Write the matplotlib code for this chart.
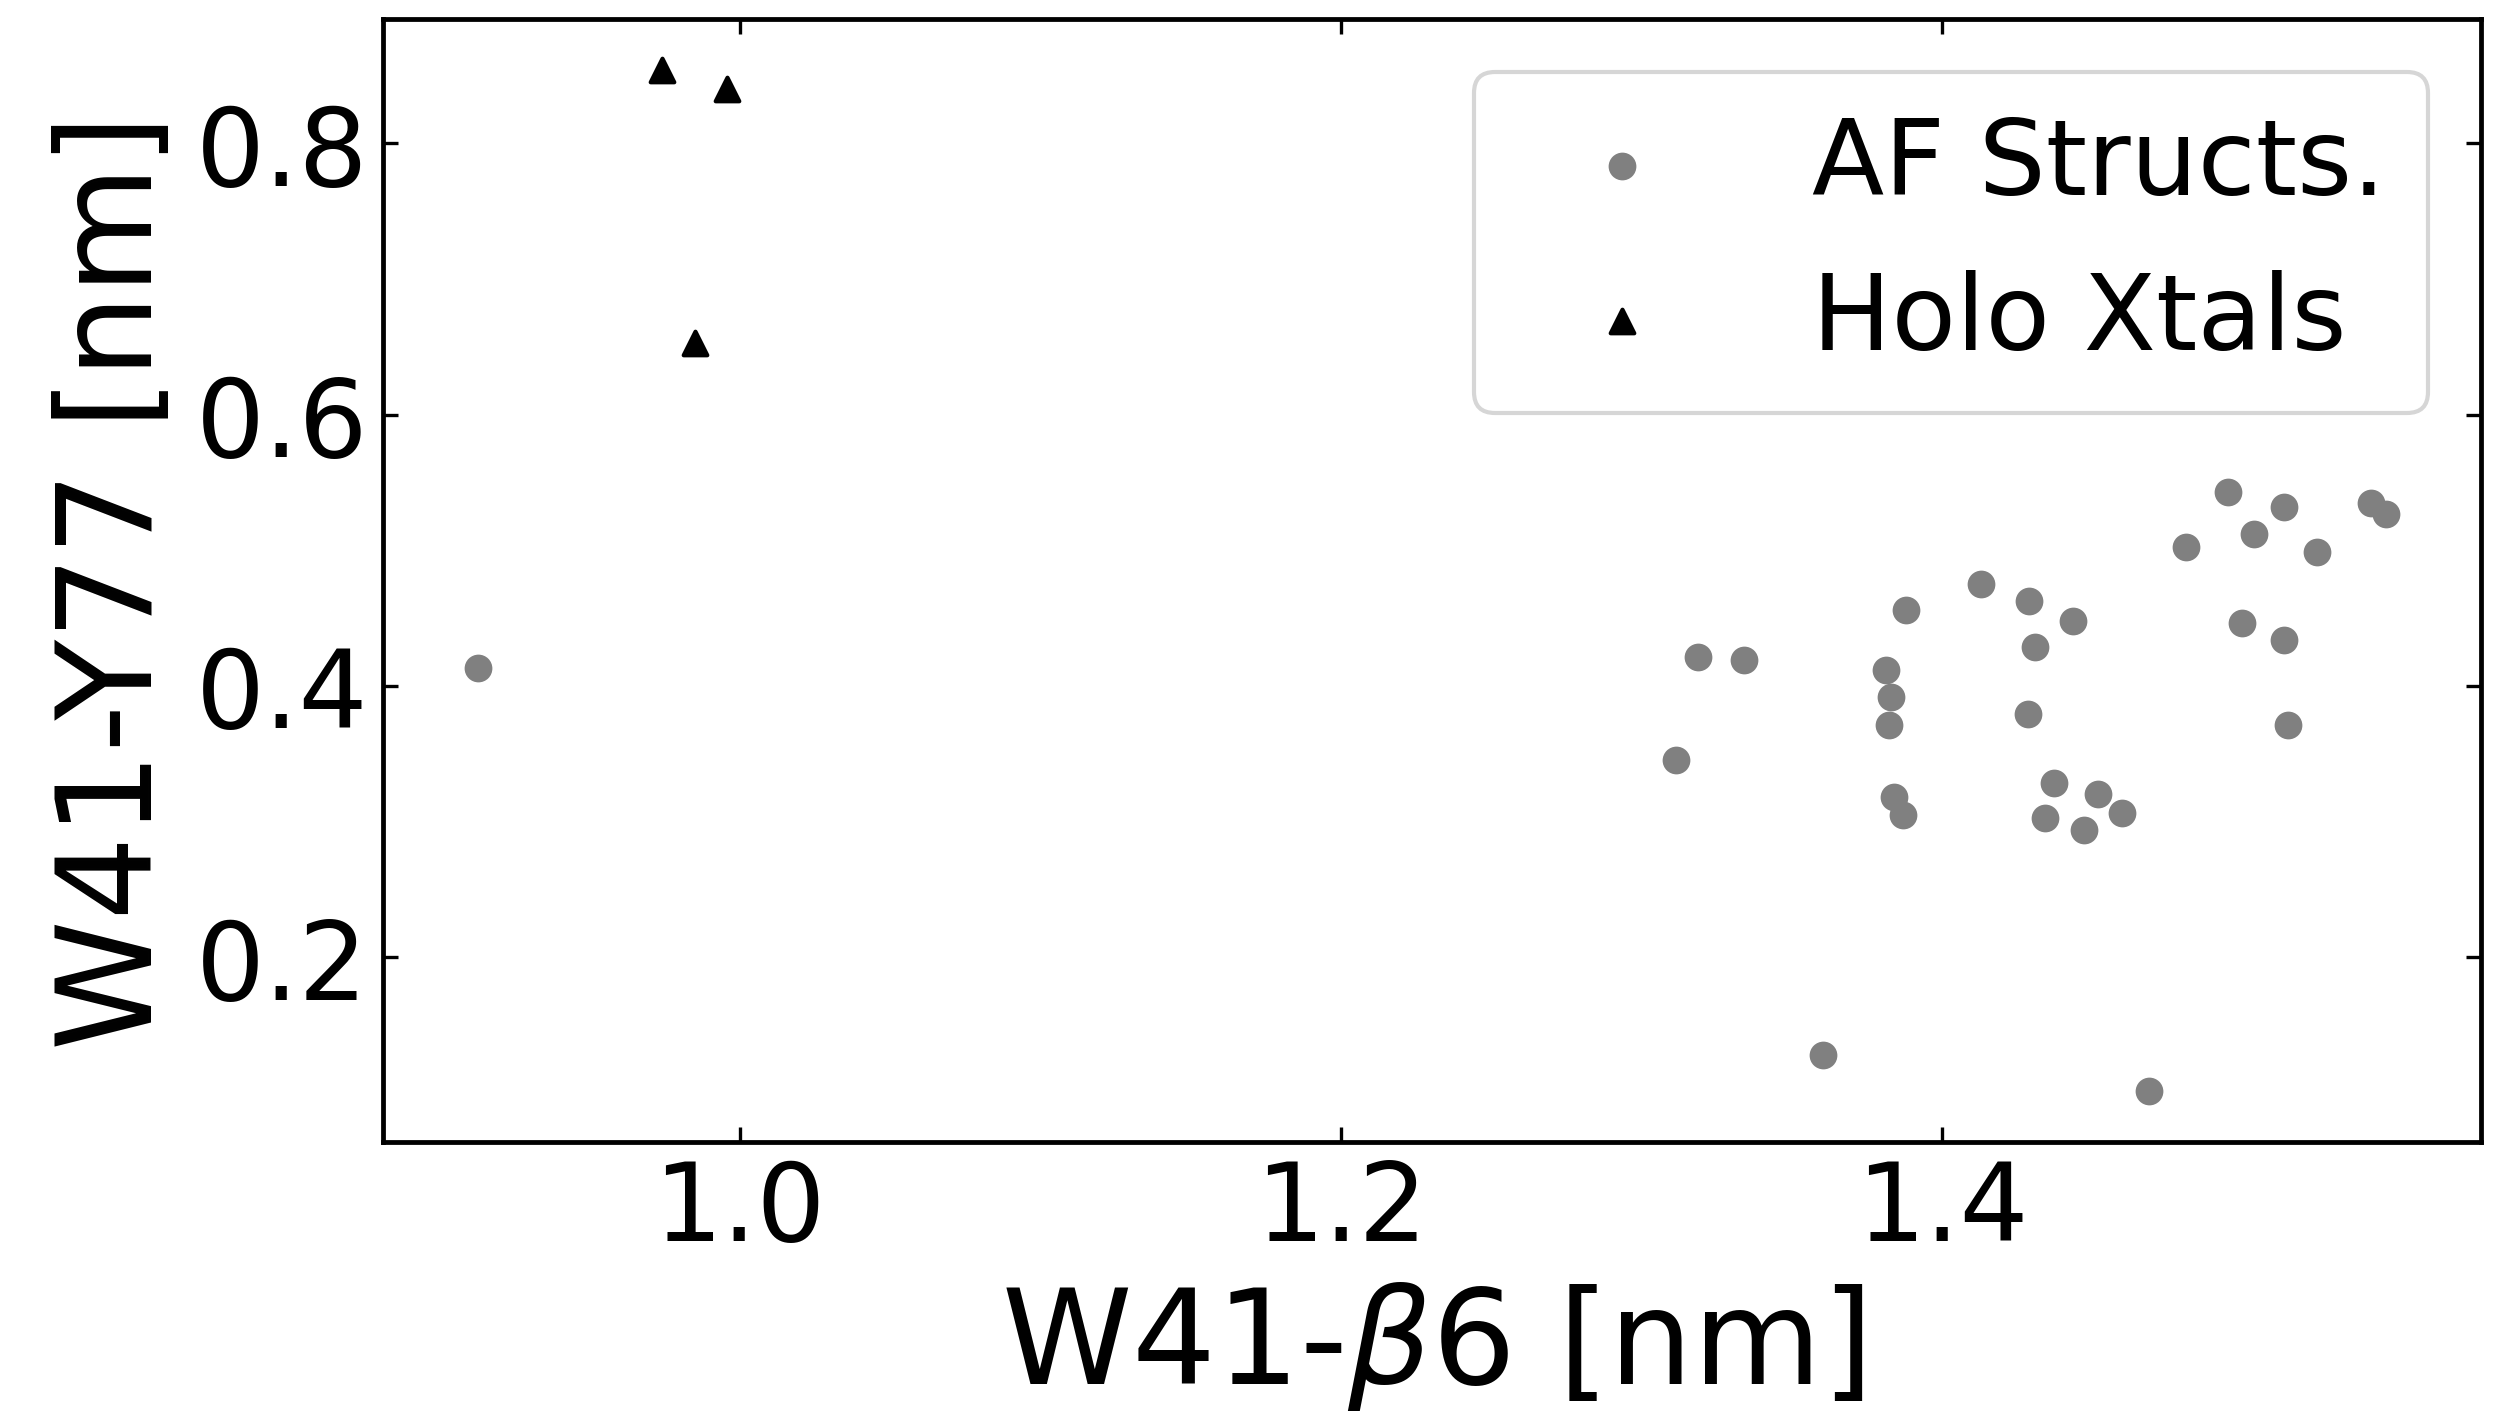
import matplotlib
matplotlib.use('Agg')
import matplotlib.pyplot as plt

# AF structures: W41-beta6 vs W41-Y77 distances (nm)
af_beta6 = [0.913, 1.3116, 1.3188, 1.3343, 1.3605, 1.3814, 1.3832, 1.3824,
            1.384, 1.387, 1.3882, 1.4129, 1.4288, 1.429, 1.4309, 1.4343,
            1.4373, 1.4435, 1.4473, 1.452, 1.46, 1.469, 1.4811, 1.4954,
            1.4999, 1.5039, 1.5139, 1.5139, 1.5153, 1.525, 1.5427, 1.5477]
af_y77 = [0.413, 0.3457, 0.4215, 0.419, 0.1281, 0.412, 0.392, 0.3712,
          0.3184, 0.3046, 0.4558, 0.4754, 0.3791, 0.4623, 0.4288, 0.303,
          0.3285, 0.4479, 0.2937, 0.3204, 0.3062, 0.1015, 0.5024, 0.5428,
          0.4465, 0.5122, 0.532, 0.4337, 0.3709, 0.4988, 0.5346, 0.5264]

# holo crystal structures
holo_beta6 = [0.974, 0.9957, 0.985]
holo_y77 = [0.854, 0.840, 0.653]

fig = plt.figure(figsize=(2495 / 300, 1414 / 300), dpi=300)
ax = fig.add_axes([0.1535, 0.1917, 0.8409, 0.7942])

ax.scatter(af_beta6, af_y77, s=32, color='gray', marker='o', label='AF Structs.')
ax.scatter(holo_beta6, holo_y77, s=32, color='black', marker='^', label='Holo Xtals')

ax.set_xticks([1.0, 1.2, 1.4])
ax.set_yticks([0.2, 0.4, 0.6, 0.8])
ax.tick_params(direction='in', top=True, right=True, labelsize=26, length=3.5, width=0.8)
for sp in ax.spines.values():
    sp.set_linewidth(1.15)

ax.set_xlabel(r'W41-$\beta$6 [nm]', fontsize=31.7)
ax.set_ylabel('W41-Y77 [nm]', fontsize=31.7)
ax.legend(loc='upper right', fontsize=25.35)

fig.savefig('out.png', dpi=300)
